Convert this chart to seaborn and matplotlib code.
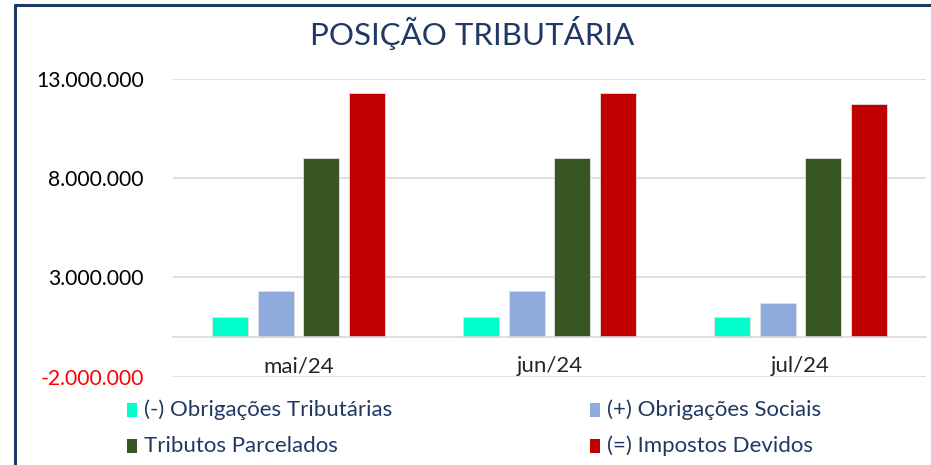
import pandas as pd
import matplotlib.pyplot as plt
import seaborn as sns
from matplotlib.lines import Line2D

meses = ["mai/24", "jun/24", "jul/24"]
series = ["(-) Obrigações Tributárias", "(+) Obrigações Sociais",
          "Tributos Parcelados", "(=) Impostos Devidos"]
obrig_trib = [980000, 980000, 980000]
obrig_sociais = [2300000, 2300000, 1730000]
parcelados = [9040000, 9040000, 9040000]
impostos = [12330000, 12330000, 11770000]
cores = ["#00FFCC", "#8FAADC", "#375623", "#C00000"]
yticks = [-2000000, 3000000, 8000000, 13000000]

df = pd.DataFrame({
    "mes": meses * 4,
    "serie": [s for s in series for _ in meses],
    "valor": obrig_trib + obrig_sociais + parcelados + impostos,
})

sns.set_style("white")
plt.rcParams['font.family'] = ['Lato', 'DejaVu Sans']

fig = plt.figure(figsize=(9.31, 4.65), dpi=100)
ax = fig.add_axes([173 / 931, 1 - 376.5 / 465, 753 / 931, 297.2 / 465])

sns.barplot(data=df, x="mes", y="valor", hue="serie", order=meses,
            hue_order=series, palette=cores, width=0.728, gap=0.21,
            saturation=1, edgecolor="#E0E0E0", linewidth=0.6, ax=ax,
            legend=False)

ax.set_xlim(-0.5, 2.5)
ax.set_ylim(-2000000, 13000000)
ax.set_yticks(yticks)
ax.set_yticklabels([f"{v:,.0f}".replace(",", ".") for v in yticks])
ax.tick_params(axis="y", length=0, pad=21, labelsize=15.2, labelcolor="black")
ax.get_yticklabels()[0].set_color("#FF0000")
ax.yaxis.grid(True, color="#D9D9D9", linewidth=1.2)
ax.set_axisbelow(True)
ax.set_xlabel("")
ax.set_ylabel("")

for s in ["top", "right", "left"]:
    ax.spines[s].set_visible(False)
ax.spines["bottom"].set_position(("data", 0))
ax.spines["bottom"].set_color("#D9D9D9")
ax.spines["bottom"].set_linewidth(1.2)
ax.set_xticks([-0.5, 0.5, 1.5, 2.5], minor=True)
ax.tick_params(axis="x", which="major", length=0, pad=14, labelsize=16)
ax.tick_params(axis="x", which="minor", length=7, width=1.2, color="#D9D9D9",
               direction="out")

fig.text(472 / 931, 1 - 33 / 465, "POSIÇÃO TRIBUTÁRIA", ha="center", va="center",
         fontsize=22.5, color="#1F3864")

leg_pos = [(127, 410), (590, 410), (127, 446), (590, 446)]
for cor, lab, (lx, ly) in zip(cores, series, leg_pos):
    fig.patches.append(plt.Rectangle((lx / 931, 1 - (ly + 7) / 465), 10 / 931, 14 / 465,
                                     transform=fig.transFigure, facecolor=cor,
                                     edgecolor="none"))
    fig.text((lx + 17) / 931, 1 - ly / 465, lab, ha="left", va="center",
             fontsize=16, color="#1F3864")

# moldura azul do quadro
fig.add_artist(Line2D([15 / 931, 15 / 931], [0, 1 - 5 / 465], color="#1F3864",
                      linewidth=2.2, transform=fig.transFigure))
fig.add_artist(Line2D([15 / 931, 1], [1 - 5 / 465, 1 - 5 / 465], color="#1F3864",
                      linewidth=2.2, transform=fig.transFigure))

fig.savefig("out.png", dpi=100)
